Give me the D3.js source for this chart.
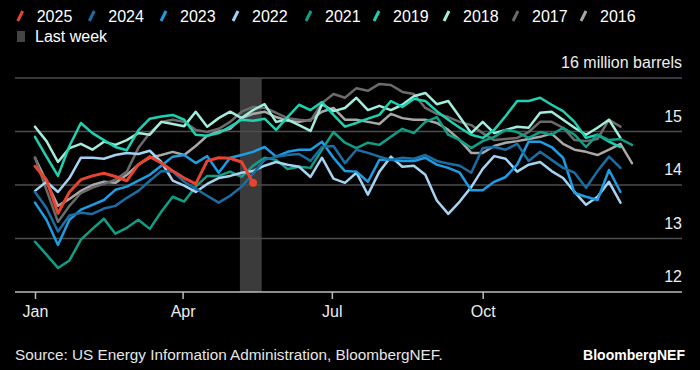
<!DOCTYPE html>
<html>
<head>
<meta charset="utf-8">
<script src="https://cdn.jsdelivr.net/npm/d3@7"></script>
<style>
  html, body { margin: 0; padding: 0; background: #000; }
  svg { display: block; font-family: "Liberation Sans", Arial, sans-serif; }
</style>
</head>
<body>
<svg id="chart" width="700" height="370"></svg>
<script>
// ---------- DATA (weekly values, million barrels) ----------
const years = ["2025", "2024", "2023", "2022", "2021", "2019", "2018", "2017", "2016"];
const s2025 = [14.35,14.1,13.47,13.87,14.1,14.17,14.22,14.16,14.08,14.38,14.53,14.41,14.26,14.13,14.02,14.45,14.51,14.5,14.43,14.04];
const s2024 = [13.87,13.57,13.13,13.43,13.48,13.46,13.56,13.61,13.76,13.89,14.08,14.26,14.25,14.06,13.93,13.8,13.67,13.8,13.97,14.21,14.47,14.53,14.56,14.58,14.45,14.71,14.73,14.41,14.66,14.6,14.53,14.47,14.51,14.49,14.56,14.45,14.4,14.36,14.23,14.69,14.71,14.66,14.77,14.45,14.62,14.47,14.32,14.23,13.95,14.26,14.53,14.32];
const s2023 = [13.67,13.35,12.88,13.35,13.54,13.63,13.72,13.91,13.97,14.08,14.19,14.36,14.53,14.56,14.41,14.54,14.23,14.51,14.56,14.62,14.71,14.53,14.62,14.66,14.66,14.81,14.51,14.26,14.25,14.06,14.47,14.47,14.45,14.45,14.51,14.38,14.32,14.23,13.9,13.9,14.06,14.15,14.38,14.81,14.81,14.71,14.51,13.85,13.78,13.72,14.28,13.87];
const s2022 = [13.89,14.06,13.87,14.13,14.51,14.51,14.49,14.56,14.6,14.58,14.64,14.43,14.08,13.99,13.87,14.02,14.13,14.17,14.23,14.26,14.36,14.43,14.38,14.34,14.15,14.51,14.12,14.04,14.23,13.82,14.25,14.53,14.34,14.36,14.19,13.71,13.46,13.69,13.96,14.3,14.54,14.49,14.25,14.38,14.43,14.26,14.13,13.87,13.63,13.78,14.06,13.67];
const s2021 = [12.94,12.7,12.45,12.59,12.98,13.18,13.37,13.09,13.2,13.35,13.18,13.5,13.78,13.69,13.97,14.17,14.17,14.25,14.15,14.36,14.51,14.47,14.3,14.34,14.32,14.66,14.99,14.79,14.69,14.79,14.75,14.9,15.05,14.97,15.18,15.27,14.94,14.84,14.69,14.82,14.9,15.03,14.99,14.88,14.99,14.94,15.07,14.94,14.71,14.94,14.84,14.86,14.75];
const s2019 = [14.9,14.53,14.17,14.73,15.16,14.97,14.84,14.71,14.65,15.02,15.24,15.28,15.31,15.22,14.94,14.92,14.97,15.09,15.22,15.2,15.24,15.03,15.27,15.5,15.4,15.55,15.31,15.09,15.16,15.24,15.31,15.57,15.46,15.61,15.57,15.38,15.22,15.07,14.94,14.88,15.03,15.29,15.57,15.57,15.63,15.5,15.38,15.18,14.88,14.94,14.81,14.71];
const s2018 = [15.09,14.82,14.43,14.69,14.77,14.66,14.81,14.75,14.84,14.97,14.94,15.18,15.14,15.1,15.37,15.09,15.25,15.37,15.25,15.4,15.51,15.18,15.22,15.12,15.01,15.51,15.38,15.44,15.63,15.4,15.48,15.4,15.5,15.66,15.72,15.51,15.57,15.27,14.97,15.18,14.97,15.03,15.09,15.07,15.35,15.37,15.22,15.07,14.94,15.07,15.22,14.88];
const s2017 = [14.51,13.91,13.31,13.61,13.85,13.95,14.02,14.1,14.25,14.69,14.97,15.18,15.22,15.18,15.03,14.99,15.05,15.18,15.37,15.46,15.44,15.35,15.25,15.22,15.2,15.53,15.7,15.63,15.81,15.76,15.89,15.87,15.74,15.7,15.44,15.33,15.27,15.18,15.12,14.97,14.84,14.86,14.88,14.99,15.18,15.18,15.07,14.84,14.82,14.86,15.22,15.09];
const s2016 = [14.51,14.06,13.61,13.74,13.89,14.0,14.06,14.04,14.19,14.38,14.51,14.56,14.62,14.56,14.73,14.92,15.0,15.05,15.25,15.33,15.37,15.27,15.2,15.18,15.22,15.37,15.44,15.22,15.22,15.18,15.14,15.33,15.25,15.22,15.22,15.16,15.03,14.84,14.6,14.6,14.73,14.79,14.82,14.86,14.9,14.96,14.77,14.66,14.62,14.56,14.66,14.77,14.41];
const yTicks = [12, 13, 14, 15, 16];
const monthLabels = ["Jan", "Apr", "Jul", "Oct"];
const monthStartDays = [0, 90, 181, 273];
const lastWeekRange = [17.85, 19.75]; // in week units
const unitLabel = "million barrels";
const sourceText = "Source: US Energy Information Administration, BloombergNEF.";
const brandText = "BloombergNEF";

// ---------- STYLE ----------
const colors = {
  "2025": "#e8432e", "2024": "#1a6ea2", "2023": "#1c9de4", "2022": "#a5d4f2",
  "2021": "#0f9f86", "2019": "#1ed1b0", "2018": "#a3eddc", "2017": "#6b6b6b", "2016": "#a8a8a8"
};
const seriesValues = {
  "2025": s2025, "2024": s2024, "2023": s2023, "2022": s2022, "2021": s2021,
  "2019": s2019, "2018": s2018, "2017": s2017, "2016": s2016
};

const svg = d3.select("#chart");
const plotLeft = 15, plotRight = 682, plotTop = 78, plotBottom = 292;

const x = d3.scaleLinear().domain([-1.742, 56.36]).range([plotLeft, plotRight]);
const y = d3.scaleLinear().domain([12, 16]).range([plotBottom, plotTop]);

// last-week band
svg.append("rect")
  .attr("x", x(lastWeekRange[0]))
  .attr("y", y(16))
  .attr("width", x(lastWeekRange[1]) - x(lastWeekRange[0]))
  .attr("height", y(12) - y(16))
  .attr("fill", "#3b3b3b");

// gridlines
svg.append("g").selectAll("line")
  .data(yTicks.filter(d => d !== 12))
  .join("line")
  .attr("x1", plotLeft).attr("x2", plotRight)
  .attr("y1", d => y(d)).attr("y2", d => y(d))
  .attr("stroke", "#4d4d4d").attr("stroke-width", 1.5);

// y labels (above gridlines, right aligned)
svg.append("g").selectAll("text")
  .data(yTicks)
  .join("text")
  .attr("x", plotRight)
  .attr("y", d => y(d) - 10)
  .attr("text-anchor", "end")
  .attr("fill", "#eeeeee")
  .attr("font-size", 16)
  .text(d => d === 16 ? d + " " + unitLabel : d);

// x axis
const xAxis = d3.axisBottom(x)
  .tickValues(monthStartDays.map(d => d / 7))
  .tickFormat((d, i) => monthLabels[i])
  .tickSize(7)
  .tickPadding(7);
const gx = svg.append("g").attr("transform", `translate(0,${plotBottom})`).call(xAxis);
gx.select(".domain").remove();
gx.selectAll(".tick line").attr("stroke", "#bdbdbd").attr("stroke-width", 1.5);
gx.selectAll(".tick text").attr("fill", "#eeeeee").attr("font-size", 16)
  .attr("font-family", '"Liberation Sans", Arial, sans-serif');
svg.append("line")
  .attr("x1", plotLeft).attr("x2", plotRight)
  .attr("y1", y(12)).attr("y2", y(12))
  .attr("stroke", "#bdbdbd").attr("stroke-width", 1.5);

// lines
const line = d3.line()
  .x((d, i) => x(i))
  .y(d => y(d));
const drawOrder = years.slice().reverse();
svg.append("g").selectAll("path")
  .data(drawOrder)
  .join("path")
  .attr("d", k => line(seriesValues[k]))
  .attr("fill", "none")
  .attr("stroke", k => colors[k])
  .attr("stroke-width", k => k === "2025" ? 3 : 2.5)
  .attr("stroke-linejoin", "round")
  .attr("stroke-linecap", "round");

// end dot for 2025
svg.append("circle")
  .attr("cx", x(s2025.length - 1))
  .attr("cy", y(s2025[s2025.length - 1]))
  .attr("r", 4)
  .attr("fill", colors["2025"]);

// legend
const legendX = [36.7, 108.3, 180, 252, 325, 393, 463, 532, 600];
const lg = svg.append("g");
years.forEach((yr, i) => {
  const tx = legendX[i];
  lg.append("line")
    .attr("x1", tx - 19).attr("y1", 21)
    .attr("x2", tx - 14).attr("y2", 11)
    .attr("stroke", colors[yr]).attr("stroke-width", 3);
  lg.append("text")
    .attr("x", tx).attr("y", 22)
    .attr("fill", "#ffffff").attr("font-size", 16)
    .text(yr);
});
lg.append("rect").attr("x", 17).attr("y", 31).attr("width", 8).attr("height", 11).attr("fill", "#444444");
lg.append("text").attr("x", 35).attr("y", 42).attr("fill", "#ffffff").attr("font-size", 16).text("Last week");

// footer
svg.append("text").attr("x", 15).attr("y", 360).attr("fill", "#e6e6e6").attr("font-size", 15.3).text(sourceText);
svg.append("text").attr("x", 685).attr("y", 360).attr("text-anchor", "end")
  .attr("fill", "#ffffff").attr("font-size", 14).attr("font-weight", "bold").text(brandText);
</script>
</body>
</html>
